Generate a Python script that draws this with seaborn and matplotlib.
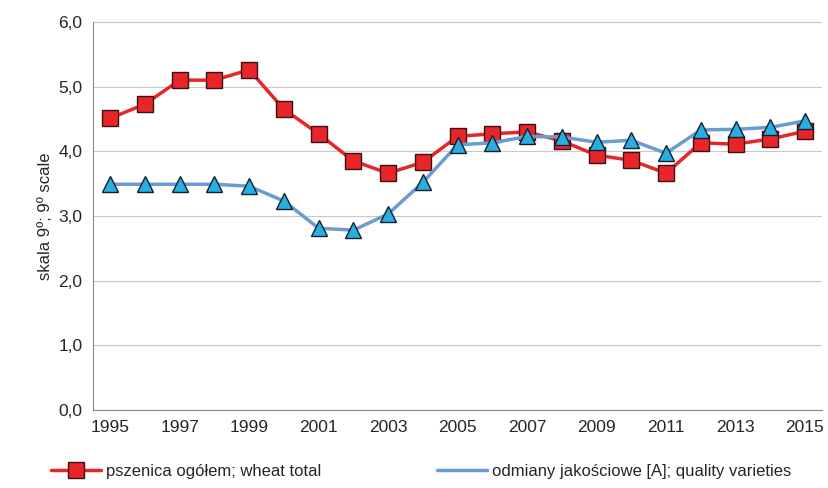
import seaborn as sns
import matplotlib.pyplot as plt
import pandas as pd
from matplotlib.ticker import FuncFormatter
from matplotlib.lines import Line2D

years = list(range(1995, 2016))
wheat_total = [4.51, 4.73, 5.10, 5.10, 5.26, 4.65, 4.27, 3.85, 3.66, 3.83, 4.23,
               4.27, 4.30, 4.16, 3.94, 3.86, 3.66, 4.13, 4.11, 4.19, 4.31]
quality = [3.49, 3.49, 3.49, 3.49, 3.46, 3.23, 2.81, 2.78, 3.03, 3.52, 4.10,
           4.13, 4.23, 4.22, 4.14, 4.17, 3.97, 4.33, 4.34, 4.37, 4.47]

sns.set_style('white')
plt.rcParams['font.family'] = ['Liberation Sans', 'DejaVu Sans']

df = pd.DataFrame({'year': years, 'red': wheat_total, 'blue': quality})

fig, ax = plt.subplots(figsize=(8.29, 4.88), dpi=100)
fig.subplots_adjust(left=0.112, right=0.992, top=0.955, bottom=0.16)

sns.lineplot(data=df, x='year', y='red', ax=ax, color='#e8262a', lw=2.5,
             marker='s', markersize=11, markerfacecolor='#e8262a',
             markeredgecolor='#3a1010', markeredgewidth=1)
sns.lineplot(data=df, x='year', y='blue', ax=ax, color='#6a9bd1', lw=2.5,
             marker='^', markersize=12, markerfacecolor='#29aee0',
             markeredgecolor='#102030', markeredgewidth=1)

ax.set_ylim(0, 6)
ax.set_xlim(1994.5, 2015.5)
ax.set_yticks([0, 1, 2, 3, 4, 5, 6])
ax.yaxis.set_major_formatter(FuncFormatter(lambda v, p: f'{v:.1f}'.replace('.', ',')))
ax.set_xticks(range(1995, 2016, 2))
ax.grid(axis='y', color='#c8c8c8', lw=0.8)
for s in ['top', 'right']:
    ax.spines[s].set_visible(False)
for s in ['left', 'bottom']:
    ax.spines[s].set_color('#888888')
ax.tick_params(axis='both', labelsize=12.5, length=4, color='#888888', direction='out')
ax.set_xlabel('')
ax.set_ylabel('skala 9º; 9º scale', fontsize=12)

handles = [
    Line2D([], [], color='#e8262a', lw=2.5, marker='s', markersize=11,
           markerfacecolor='#e8262a', markeredgecolor='#3a1010'),
    Line2D([], [], color='#6a9bd1', lw=2.5),
]
ax.legend(handles, ['pszenica ogółem; wheat total', 'odmiany jakościowe [A]; quality varieties'],
          loc='upper center', bbox_to_anchor=(0.45, -0.1), ncol=2, frameon=False,
          fontsize=12, columnspacing=7, handlelength=3, handletextpad=0.3)

plt.savefig('out.png', dpi=100)
